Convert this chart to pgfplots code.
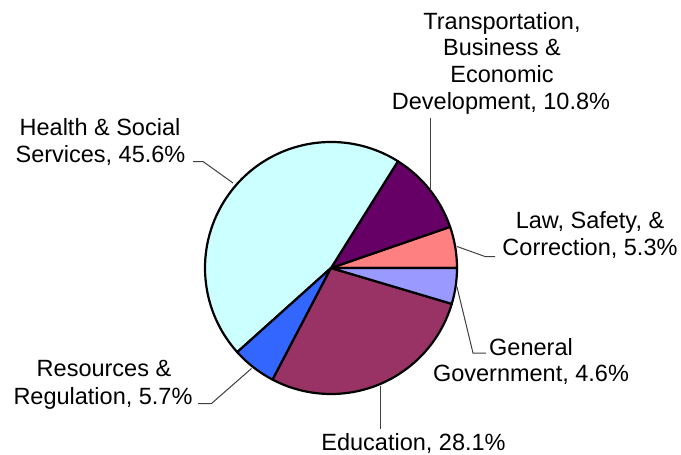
\documentclass[border=0pt]{standalone}
\usepackage{fontspec}
\setmainfont{Liberation Sans}
\usepackage{pgfplots}
\usepackage{pgfplotstable}
\pgfplotsset{compat=1.18}

\definecolor{lawc}{HTML}{FF8080}
\definecolor{transc}{HTML}{660066}
\definecolor{healthc}{HTML}{CCFFFF}
\definecolor{resc}{HTML}{3366FF}
\definecolor{educ}{HTML}{993366}
\definecolor{genc}{HTML}{9999FF}
\definecolor{leader}{HTML}{404040}

% shares in %, counterclockwise from 3 o'clock
\pgfplotstableread{
share col
5.3   lawc
10.8  transc
45.6  healthc
5.7   resc
28.1  educ
4.6   genc
}\sharedata

\newcommand{\lbl}[3]{\node[anchor=base, inner sep=0pt,
  font=\fontsize{23.5bp}{27bp}\selectfont] at (axis cs:#1,#2) {#3};}

\begin{document}
\begin{tikzpicture}
\useasboundingbox (0,0) rectangle (681bp,455bp);
\begin{axis}[
    scale only axis,
    width=681bp, height=455bp,
    xmin=0, xmax=681, ymin=0, ymax=455,
    y dir=reverse,
    hide axis,
    clip=false,
]
\def\acc{0}
\pgfplotsforeachungrouped \i in {0,...,5}{
  \pgfplotstablegetelem{\i}{share}\of\sharedata
  \let\v=\pgfplotsretval
  \pgfplotstablegetelem{\i}{col}\of\sharedata
  \let\c=\pgfplotsretval
  \pgfmathsetmacro{\aend}{\acc+\v*3.5964}
  \edef\temp{\noexpand\filldraw[fill=\c, draw=black, line width=2.2bp, line join=round]
    (axis cs:331,268) -- ++(\acc:126bp) arc[start angle=\acc, end angle=\aend, radius=126bp] -- cycle;}
  \temp
  \global\let\acc=\aend
}

% leader lines
\draw[leader, line width=1bp] (axis cs:193,161.5) -- (axis cs:203,161.5) -- (axis cs:233,183);
\draw[leader, line width=1bp] (axis cs:430,118) -- (axis cs:430,190);
\draw[leader, line width=1bp] (axis cs:495,256.5) -- (axis cs:485,256.5) -- (axis cs:457,246.5);
\draw[leader, line width=1bp] (axis cs:486,353) -- (axis cs:473,353) -- (axis cs:457,287);
\draw[leader, line width=1bp] (axis cs:198,403.5) -- (axis cs:211.5,403.5) -- (axis cs:251.5,368.5);
\draw[leader, line width=1bp] (axis cs:380,386) -- (axis cs:380,429);

% labels
\lbl{100}{135}{Health \& Social}
\lbl{100.5}{162.3}{Services, 45.6\%}
\lbl{502}{29.3}{Transportation,}
\lbl{502}{56}{Business \&}
\lbl{502}{82.7}{Economic}
\lbl{501}{109.4}{Development, 10.8\%}
\lbl{590}{228.3}{Law, Safety, \&}
\lbl{590}{255}{Correction, 5.3\%}
\lbl{531}{355}{General}
\lbl{531}{381.7}{Government, 4.6\%}
\lbl{104}{376.7}{Resources \&}
\lbl{103}{404}{Regulation, 5.7\%}
\lbl{413.5}{450}{Education, 28.1\%}
\end{axis}
\end{tikzpicture}
\end{document}
